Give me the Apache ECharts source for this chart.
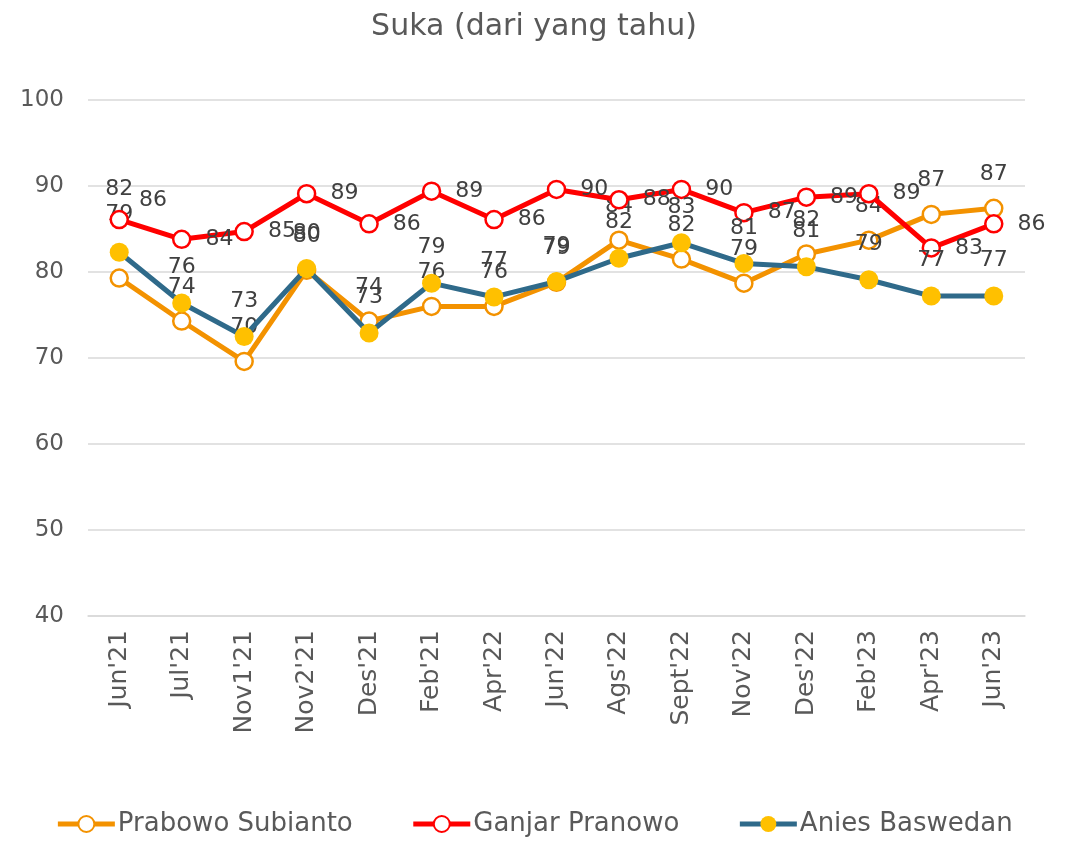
<!DOCTYPE html>
<html><head><meta charset="utf-8">
<script src="https://cdn.jsdelivr.net/npm/echarts@6/dist/echarts.min.js"></script>
<style>html,body{margin:0;padding:0;background:#fff}#c{width:1068px;height:845px}</style>
</head><body><div id="c"></div>
<script>
const categories = ["Jun'21","Jul'21","Nov1'21","Nov2'21","Des'21","Feb'21","Apr'22","Jun'22","Ags'22","Sept'22","Nov'22","Des'22","Feb'23","Apr'23","Jun'23"];
const prabowo = [79.3,74.3,69.6,80.2,74.3,76.0,76.0,78.8,83.7,81.5,78.7,82.1,83.7,86.7,87.4];
const ganjar  = [86.1,83.8,84.7,89.1,85.6,89.4,86.1,89.6,88.4,89.6,86.9,88.7,89.1,82.8,85.6];
const anies   = [82.3,76.4,72.5,80.4,72.9,78.7,77.1,78.9,81.6,83.4,81.0,80.6,79.1,77.2,77.2];
const yTicks = {min:40, max:100, interval:10};
const FONT = "DejaVu Sans";
const txt = '#595959';
const lbl = '#404040';
const fmt = p => String(Math.round(p.value));
// first category labels sit higher in the original
function withFirstOffset(arr, dy, dx){
  return arr.map((v,i)=> i===0 ? {value:v, label:{offset:[dx||0,dy]}} : v);
}
const chart = echarts.init(document.getElementById('c'));
chart.setOption({
  animation:false,
  title:{text:'Suka (dari yang tahu)', left:'center', top:7, textStyle:{fontFamily:FONT, fontSize:30, fontWeight:'normal', color:txt}},
  grid:{left:88, right:43, top:100, bottom:229, containLabel:false},
  legend:{bottom:3, left:'center', itemGap:58, itemWidth:57, itemHeight:20,
    lineStyle:{width:5},
    textStyle:{fontFamily:FONT, fontSize:26, color:txt, padding:[0,0,0,-2]},
    data:['Prabowo Subianto','Ganjar Pranowo','Anies Baswedan']},
  xAxis:{type:'category', data:categories, boundaryGap:true,
    axisLine:{lineStyle:{color:'#d9d9d9', width:1.5}}, axisTick:{show:false},
    axisLabel:{rotate:90, fontFamily:FONT, fontSize:25, color:txt, margin:14, interval:0}},
  yAxis:{type:'value', min:yTicks.min, max:yTicks.max, interval:yTicks.interval,
    axisLine:{show:false}, axisTick:{show:false},
    splitLine:{lineStyle:{color:'#d9d9d9', width:1.5}},
    axisLabel:{fontFamily:FONT, fontSize:23, color:txt, margin:24}},
  series:[
    {name:'Prabowo Subianto', type:'line', data:withFirstOffset(prabowo,-30), z:2,
      lineStyle:{color:'#F39200', width:5}, itemStyle:{color:'#fff', borderColor:'#F39200', borderWidth:2.5},
      symbol:'circle', symbolSize:17,
      label:{show:true, position:'top', distance:13, formatter:fmt, fontFamily:FONT, fontSize:22, color:lbl}},
    {name:'Ganjar Pranowo', type:'line', data:withFirstOffset(ganjar,-19,-4), z:3,
      lineStyle:{color:'#FF0000', width:5}, itemStyle:{color:'#fff', borderColor:'#FF0000', borderWidth:2.5},
      symbol:'circle', symbolSize:17,
      label:{show:true, position:'right', distance:14, formatter:fmt, fontFamily:FONT, fontSize:22, color:lbl}},
    {name:'Anies Baswedan', type:'line', data:withFirstOffset(anies,-27), z:4,
      lineStyle:{color:'#2F6A8A', width:5}, itemStyle:{color:'#FFC000', borderColor:'#FFC000', borderWidth:0},
      symbol:'circle', symbolSize:19,
      label:{show:true, position:'top', distance:15, formatter:fmt, fontFamily:FONT, fontSize:22, color:lbl}}
  ]
});
</script></body></html>
